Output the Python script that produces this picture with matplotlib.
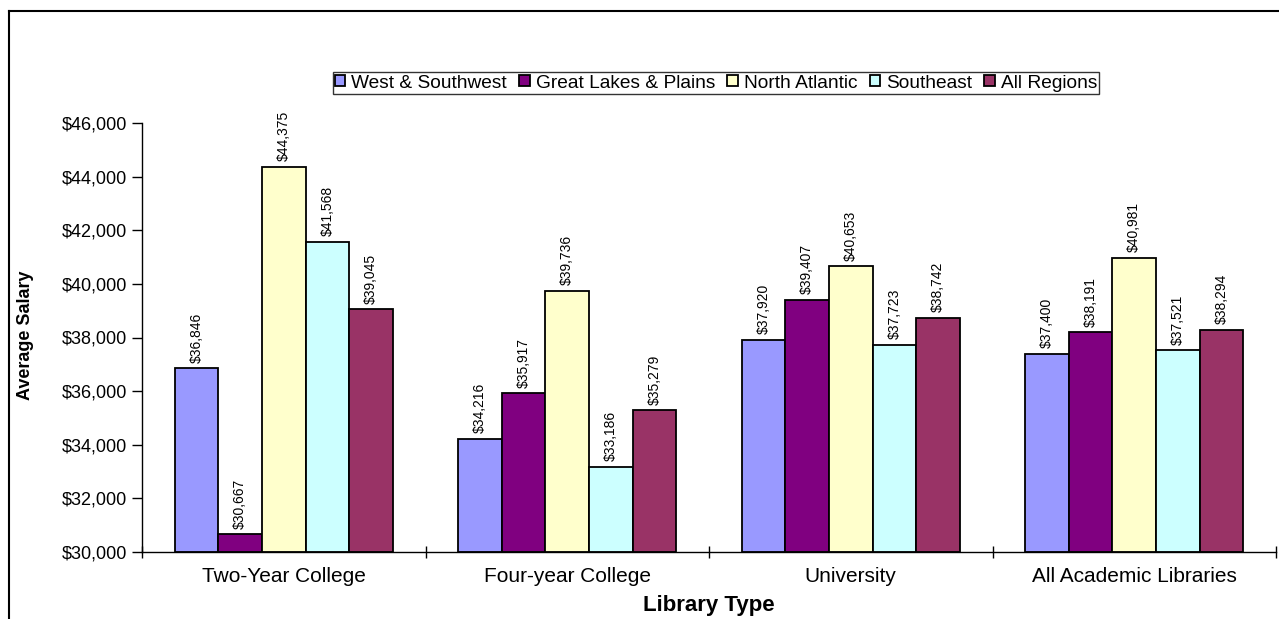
import matplotlib
matplotlib.use("Agg")
import matplotlib.pyplot as plt
import numpy as np
from matplotlib.lines import Line2D
from matplotlib.ticker import FuncFormatter

plt.rcParams["font.family"] = ["Liberation Sans", "DejaVu Sans"]

categories = ["Two-Year College", "Four-year College", "University", "All Academic Libraries"]
series_names = ["West & Southwest", "Great Lakes & Plains", "North Atlantic", "Southeast", "All Regions"]
west_southwest = [36846, 34216, 37920, 37400]
great_lakes_plains = [30667, 35917, 39407, 38191]
north_atlantic = [44375, 39736, 40653, 40981]
southeast = [41568, 33186, 37723, 37521]
all_regions = [39045, 35279, 38742, 38294]
colors = ["#9999FF", "#800080", "#FFFFCC", "#CCFFFF", "#993366"]

series = [west_southwest, great_lakes_plains, north_atlantic, southeast, all_regions]

W, H = 1279, 619
fig = plt.figure(figsize=(W / 100, H / 100), dpi=100)
ax = fig.add_axes([142 / W, 1 - 552 / H, (1276 - 142) / W, (552 - 123) / H])

x = np.arange(len(categories))
bar_w = 1 / (len(series) + 1.5)
for i, (name, vals, color) in enumerate(zip(series_names, series, colors)):
    pos = x + (i - (len(series) - 1) / 2) * bar_w
    ax.bar(pos, np.array(vals) - 30000, bar_w, bottom=30000, color=color,
           edgecolor="black", linewidth=1.3, label=name)
    for p, v in zip(pos, vals):
        ax.annotate(f"${v:,}", (p, v), xytext=(0, 4), textcoords="offset points",
                    rotation=90, ha="center", va="bottom", fontsize=10,
                    annotation_clip=False)

ax.set_xlim(-0.5, len(categories) - 0.5)
ax.set_ylim(30000, 46000)
ax.set_yticks(np.arange(30000, 46001, 2000))
ax.yaxis.set_major_formatter(FuncFormatter(lambda v, _: f"${v:,.0f}"))
ax.tick_params(axis="y", direction="out", length=7, width=1, labelsize=13, pad=4)

ax.set_xticks(np.arange(-0.5, len(categories), 1.0))
ax.set_xticklabels([])
ax.set_xticks(x, minor=True)
ax.set_xticklabels(categories, minor=True)
ax.tick_params(axis="x", which="major", direction="inout", length=9, width=1)
ax.tick_params(axis="x", which="minor", length=0, labelsize=15, pad=11)

for side in ("top", "right"):
    ax.spines[side].set_visible(False)
for side in ("left", "bottom"):
    ax.spines[side].set_linewidth(1)

leg = ax.legend(loc="center", bbox_to_anchor=(716 / W, 1 - 83 / H), bbox_transform=fig.transFigure,
                ncol=5, frameon=True, fancybox=False, fontsize=13.8, handlelength=0.55,
                handleheight=0.55, handletextpad=0.3, columnspacing=0.65, borderpad=0.12,
                borderaxespad=0)
leg.get_frame().set_edgecolor("black")
leg.get_frame().set_linewidth(1)

fig.text(25 / W, 1 - 335 / H, "Average Salary", rotation=90, ha="center", va="center",
         fontsize=13, fontweight="bold")
fig.text(709 / W, 1 - 605 / H, "Library Type", ha="center", va="center",
         fontsize=16, fontweight="bold")

# chart area border (top and left edges visible)
fig.add_artist(Line2D([9 / W, 1.0], [1 - 11 / H, 1 - 11 / H], color="black", linewidth=1.5))
fig.add_artist(Line2D([9 / W, 9 / W], [0.0, 1 - 11 / H], color="black", linewidth=1.5))

fig.savefig("out.png", dpi=100)
